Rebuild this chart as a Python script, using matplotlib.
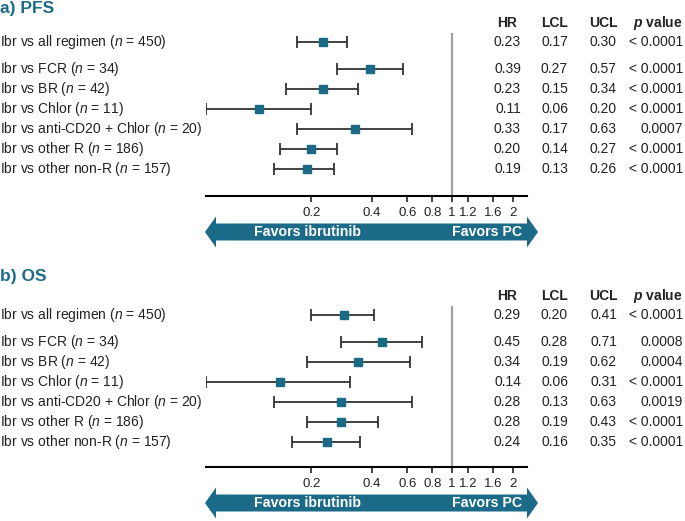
import matplotlib
matplotlib.use('Agg')
import matplotlib.pyplot as plt
from matplotlib.patches import Polygon
from matplotlib.ticker import NullLocator
from matplotlib.transforms import blended_transform_factory
import numpy as np

plt.rcParams['font.family'] = 'sans-serif'
plt.rcParams['font.sans-serif'] = ['Liberation Sans', 'DejaVu Sans']
plt.rcParams['mathtext.fontset'] = 'custom'
plt.rcParams['mathtext.rm'] = 'Liberation Sans'
plt.rcParams['mathtext.it'] = 'Liberation Sans:italic'
plt.rcParams['mathtext.bf'] = 'Liberation Sans:bold'
plt.rcParams['mathtext.bfit'] = 'Liberation Sans:italic:bold'

# Data
comparisons = ['Ibr vs all regimen', 'Ibr vs FCR', 'Ibr vs BR', 'Ibr vs Chlor',
               'Ibr vs anti-CD20 + Chlor', 'Ibr vs other R', 'Ibr vs other non-R']
n_patients = [450, 34, 42, 11, 20, 186, 157]

pfs_hr = [0.23, 0.39, 0.23, 0.11, 0.33, 0.20, 0.19]
pfs_lcl = [0.17, 0.27, 0.15, 0.06, 0.17, 0.14, 0.13]
pfs_ucl = [0.30, 0.57, 0.34, 0.20, 0.63, 0.27, 0.26]
pfs_p = ['< 0.0001', '< 0.0001', '< 0.0001', '< 0.0001', '0.0007', '< 0.0001', '< 0.0001']

os_hr = [0.29, 0.45, 0.34, 0.14, 0.28, 0.28, 0.24]
os_lcl = [0.20, 0.28, 0.19, 0.06, 0.13, 0.19, 0.16]
os_ucl = [0.41, 0.71, 0.62, 0.31, 0.63, 0.43, 0.35]
os_p = ['< 0.0001', '0.0008', '0.0004', '< 0.0001', '0.0019', '< 0.0001', '< 0.0001']

x_ticks = [0.2, 0.4, 0.6, 0.8, 1, 1.2, 1.6, 2]
x_tick_labels = ['0.2', '0.4', '0.6', '0.8', '1', '1.2', '1.6', '2']

# Style
W, H = 685, 521
BLUE = '#1b6a88'
MARKER = '#1a6985'
TXT = '#222222'
FS = 10
ROW_PX = 20  # pixels per row unit
row_pos = np.array([0, 1.33, 2.33, 3.33, 4.33, 5.33, 6.35])

fig = plt.figure(figsize=(W / 100, H / 100), dpi=100)
overlay = fig.add_axes([0, 0, 1, 1])
overlay.set_xlim(0, W)
overlay.set_ylim(H, 0)
overlay.axis('off')


def px_rect(left, top, right, bottom):
    return [left / W, 1 - bottom / H, (right - left) / W, (bottom - top) / H]


def draw_panel(title, title_y, top, row0, bottom, arrow_y, hr, lcl, ucl, pvals):
    ax = fig.add_axes(px_rect(206, top, 527, bottom))
    hr = np.array(hr)
    lcl = np.array(lcl)
    ucl = np.array(ucl)

    ax.axvline(1, color='#a0a0a0', lw=1.6, zorder=1)
    ax.errorbar(hr, row_pos, xerr=[hr - lcl, ucl - hr], fmt='s', color=MARKER,
                markersize=6, ecolor='#333333', elinewidth=1.3, capsize=4,
                capthick=1.3, zorder=3)

    ax.set_xscale('log')
    ax.set_xlim(0.06, 2.36)
    ax.set_ylim((bottom - row0) / ROW_PX, (top - row0) / ROW_PX)
    ax.set_xticks(x_ticks)
    ax.set_xticklabels(x_tick_labels, fontsize=9.5, color=TXT)
    ax.xaxis.set_minor_locator(NullLocator())
    ax.tick_params(axis='x', length=4, width=1.2, pad=4, color=TXT)
    ax.set_yticks([])
    for side in ['top', 'left', 'right']:
        ax.spines[side].set_visible(False)
    ax.spines['bottom'].set_linewidth(1.5)
    ax.patch.set_visible(False)

    trans = blended_transform_factory(fig.transFigure, ax.transData)
    for name, n, y in zip(comparisons, n_patients, row_pos):
        ax.text(0, y, f'{name} ($\\mathit{{n}}$ = {n})', transform=trans,
                ha='left', va='center', fontsize=FS, color=TXT)

    # table
    cols = [521, 568, 617]
    heads = ['HR', 'LCL', 'UCL']
    head_x = [507, 555, 603]
    for hx, h in zip(head_x, heads):
        ax.text(hx / W, -0.95, h, transform=trans, ha='center', va='center',
                fontsize=FS, fontweight='bold', color=TXT)
    ax.text(683 / W, -0.95, r'$\mathbfit{p}$ value', transform=trans, ha='right',
            va='center', fontsize=FS, fontweight='bold', color=TXT)
    for i, y in enumerate(row_pos):
        for cx, vals in zip(cols, [hr, lcl, ucl]):
            ax.text(cx / W, y, f'{vals[i]:.2f}', transform=trans, ha='right',
                    va='center', fontsize=FS, color=TXT)
        ax.text(683 / W, y, pvals[i], transform=trans, ha='right', va='center',
                fontsize=FS, color=TXT)

    # title
    overlay.text(0, title_y, title, ha='left', va='center', fontsize=12.5,
                 fontweight='bold', color=BLUE)

    # direction arrow
    cy = arrow_y
    bh, hh = 8.5, 15.5
    pts = [(205, cy), (216, cy - hh), (216, cy - bh), (527, cy - bh), (527, cy - hh),
           (538, cy), (527, cy + hh), (527, cy + bh), (216, cy + bh), (216, cy + hh)]
    overlay.add_patch(Polygon(pts, closed=True, facecolor=BLUE, edgecolor='none'))
    overlay.text(254, cy, 'Favors ibrutinib', ha='left', va='center', fontsize=10.2,
                 fontweight='bold', color='white')
    overlay.text(522, cy, 'Favors PC', ha='right', va='center', fontsize=10.2,
                 fontweight='bold', color='white')


draw_panel('a) PFS', 8, 33, 42, 196, 232, pfs_hr, pfs_lcl, pfs_ucl, pfs_p)
draw_panel('b) OS', 277, 306, 315, 467, 503, os_hr, os_lcl, os_ucl, os_p)

fig.savefig('out.png', dpi=100)
